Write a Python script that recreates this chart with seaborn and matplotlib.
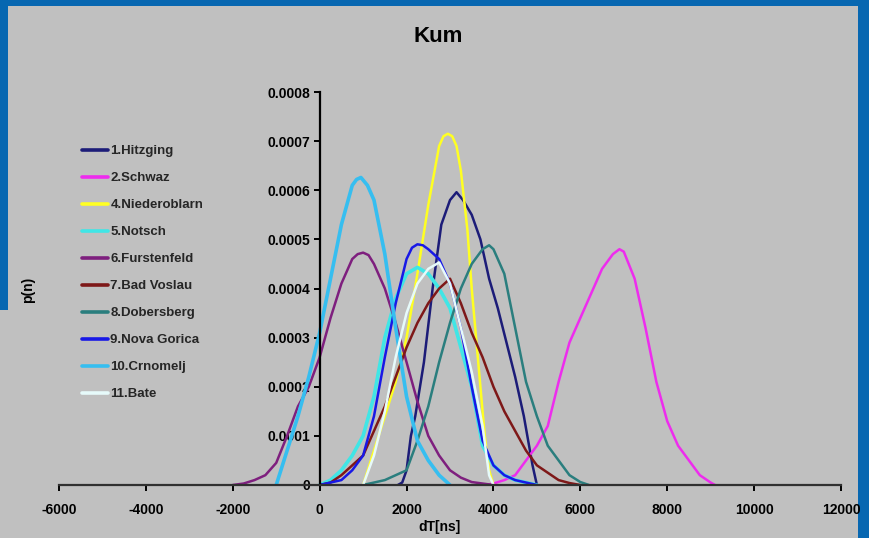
"""Kum: distribuciones p(n) de dT por estación."""

import matplotlib
matplotlib.use("Agg")

import matplotlib.pyplot as plt
import pandas as pd
import seaborn as sns
from matplotlib.lines import Line2D
from matplotlib.patches import Rectangle

# ---- datos ----
hitzging_x = [1800, 1900, 2000, 2100, 2200, 2400, 2600, 2800, 3000, 3150,
              3300, 3500, 3700, 3900, 4100, 4300, 4500, 4700, 4900, 5000]
hitzging_y = [0, 0.000005, 0.00003, 0.0001, 0.00014, 0.00025, 0.0004, 0.00053, 0.00058, 0.000596,
              0.00058, 0.00055, 0.0005, 0.00042, 0.00036, 0.00029, 0.00022, 0.00014, 0.00004, 0]

schwaz_x = [3800, 4000, 4250, 4500, 4750, 5000, 5250, 5500, 5750, 6000, 6250, 6500,
            6750, 6900, 7000, 7250, 7500, 7750, 8000, 8250, 8500, 8750, 9000, 9100]
schwaz_y = [0, 0.000003, 0.00001, 0.00002, 0.00005, 0.00008, 0.00012, 0.00021, 0.00029, 0.00034,
            0.00039, 0.00044, 0.00047, 0.00048, 0.000475, 0.00042, 0.00032, 0.00021, 0.00013,
            0.00008, 0.00005, 0.00002, 0.000005, 0]

nieder_x = [1000, 1250, 1500, 1750, 2000, 2250, 2500, 2750, 2850, 2950, 3050, 3150, 3250,
            3400, 3500, 3600, 3700, 3800, 3900, 4000]
nieder_y = [0, 0.00007, 0.00014, 0.00021, 0.0003, 0.00043, 0.00057, 0.00069, 0.00071, 0.000715,
            0.00071, 0.00069, 0.00064, 0.00052, 0.0004, 0.0003, 0.0002, 0.0001, 0.00003, 0]

notsch_x = [0, 250, 500, 750, 1000, 1250, 1500, 1750, 2000, 2250, 2500, 2750, 3000,
            3250, 3500, 3750, 4000, 4250, 4500, 5000]
notsch_y = [0, 0.00001, 0.00003, 0.00006, 0.0001, 0.00018, 0.0003, 0.00038, 0.00043, 0.000443,
            0.00043, 0.0004, 0.00036, 0.00028, 0.0002, 0.00008, 0.00004, 0.00002, 0.00001, 0]

furst_x = [-2000, -1750, -1500, -1250, -1000, -750, -500, -250, 0, 250, 500, 750, 875, 1000,
           1125, 1250, 1500, 1750, 2000, 2250, 2500, 2750, 3000, 3250, 3500, 4000]
furst_y = [0, 0.000003, 0.00001, 0.00002, 0.000045, 0.0001, 0.00016, 0.0002, 0.00026, 0.00034,
           0.00041, 0.00046, 0.00047, 0.000473, 0.000468, 0.00045, 0.0004, 0.00033, 0.00025,
           0.00017, 0.0001, 0.00006, 0.00003, 0.000015, 0.000006, 0]

voslau_x = [0, 250, 500, 750, 1000, 1250, 1500, 1750, 2000, 2250, 2500, 2750, 3000,
            3250, 3500, 3750, 4000, 4250, 4500, 4750, 5000, 5250, 5500, 5750, 6000]
voslau_y = [0, 0.000005, 0.00002, 0.00004, 0.00006, 0.00011, 0.00016, 0.00022, 0.00028, 0.00033,
            0.00037, 0.0004, 0.00042, 0.00037, 0.00031, 0.00026, 0.0002, 0.00015, 0.00011,
            0.00007, 0.00004, 0.000025, 0.00001, 0.000004, 0]

dobers_x = [1000, 1250, 1500, 1750, 2000, 2250, 2500, 2750, 3000, 3250, 3500, 3750,
            3900, 4000, 4250, 4500, 4750, 5000, 5250, 5500, 5750, 6000, 6200]
dobers_y = [0, 0.000005, 0.00001, 0.00002, 0.00003, 0.00009, 0.00016, 0.00025, 0.00033, 0.0004,
            0.00045, 0.00048, 0.000488, 0.00048, 0.00043, 0.00032, 0.00021, 0.00014, 0.00008,
            0.00005, 0.00002, 0.000006, 0]

gorica_x = [0, 250, 500, 750, 1000, 1250, 1500, 1750, 2000, 2125, 2250, 2375, 2500, 2750,
            3000, 3250, 3500, 3750, 4000, 4250, 4500, 5000]
gorica_y = [0, 0.000005, 0.00001, 0.00003, 0.00006, 0.00014, 0.00026, 0.00037, 0.00046, 0.000483,
            0.00049, 0.000488, 0.00048, 0.00046, 0.00041, 0.00032, 0.0002, 0.00009, 0.00004,
            0.00002, 0.00001, 0]

crnom_x = [-1000, -750, -500, -250, 0, 250, 500, 750, 850, 950, 1100, 1250, 1500, 1750,
           2000, 2250, 2500, 2750, 3000]
crnom_y = [0, 0.00007, 0.00014, 0.00022, 0.00031, 0.00042, 0.00053, 0.00061, 0.000622, 0.000626,
           0.00061, 0.00058, 0.00047, 0.00032, 0.00018, 0.00009, 0.00005, 0.00002, 0]

bate_x = [1000, 1250, 1500, 1750, 2000, 2250, 2500, 2750, 3000, 3250, 3500, 3750, 3900, 4000]
bate_y = [0, 0.00006, 0.00015, 0.00026, 0.00035, 0.00041, 0.00044, 0.000453, 0.00041, 0.00032,
          0.00023, 0.00012, 0.00002, 0]

labels = ["1.Hitzging", "2.Schwaz", "4.Niederoblarn", "5.Notsch", "6.Furstenfeld",
          "7.Bad Voslau", "8.Dobersberg", "9.Nova Gorica", "10.Crnomelj", "11.Bate"]
colors = ["#1c1c78", "#ee2cee", "#ffff22", "#40e6e6", "#7e1f7e",
          "#7e1818", "#2a7e7e", "#1818e6", "#36bef0", "#e6fafa"]
widths = [1.8, 1.8, 1.8, 2.6, 1.8, 1.8, 1.8, 1.8, 2.6, 1.8]

x_ticks = [-6000, -4000, -2000, 0, 2000, 4000, 6000, 8000, 10000, 12000]
y_ticks = [0, 0.0001, 0.0002, 0.0003, 0.0004, 0.0005, 0.0006, 0.0007, 0.0008]
y_tick_labels = ["0", "0.0001", "0.0002", "0.0003", "0.0004", "0.0005", "0.0006", "0.0007", "0.0008"]

series = [(hitzging_x, hitzging_y), (schwaz_x, schwaz_y), (nieder_x, nieder_y),
          (notsch_x, notsch_y), (furst_x, furst_y), (voslau_x, voslau_y),
          (dobers_x, dobers_y), (gorica_x, gorica_y), (crnom_x, crnom_y), (bate_x, bate_y)]

frames = []
for name, (xs, ys) in zip(labels, series):
    frames.append(pd.DataFrame({"dT": xs, "p": ys, "site": name}))
data = pd.concat(frames, ignore_index=True)

sns.set_theme(style="white")
plt.rcParams["font.family"] = ["Liberation Sans", "DejaVu Sans"]
plt.rcParams["font.weight"] = "bold"

BLUE = "#0767b1"
GRAY = "#c0c0c0"
W, H = 870, 538

fig = plt.figure(figsize=(8.7, 5.38), dpi=100, facecolor=BLUE)
fig.add_artist(Rectangle((8 / W, 0), 850 / W, 532 / H, transform=fig.transFigure,
                         facecolor=GRAY, edgecolor="none", zorder=-5))
fig.add_artist(Rectangle((0, 0), 9 / W, (H - 310) / H, transform=fig.transFigure,
                         facecolor=GRAY, edgecolor="none", zorder=-5))

ax = fig.add_axes([59 / W, 53 / H, 782 / W, 393 / H])
ax.set_facecolor("none")
ax.set_zorder(2)

for name, color, lw in zip(labels, colors, widths):
    sns.lineplot(data=data[data["site"] == name], x="dT", y="p", color=color,
                 linewidth=lw, ax=ax, legend=False, sort=False)

ax.set_xlim(-6000, 12000)
ax.set_ylim(0, 0.0008)
ax.set_xticks(x_ticks)
ax.set_xticklabels([str(v) for v in x_ticks])
ax.set_yticks(y_ticks)
ax.set_yticklabels(y_tick_labels)

for side in ["top", "right"]:
    ax.spines[side].set_visible(False)
ax.spines["left"].set_position(("data", 0))
ax.spines["left"].set_color("black")
ax.spines["left"].set_linewidth(1.6)
ax.spines["bottom"].set_color("#303030")
ax.spines["bottom"].set_linewidth(1.6)

ax.tick_params(axis="both", direction="out", length=4, width=1.4, color="black",
               labelsize=10, labelcolor="black")
ax.tick_params(axis="y", pad=3, left=True)
ax.tick_params(axis="x", pad=9, bottom=True)
for lab in ax.get_xticklabels() + ax.get_yticklabels():
    lab.set_fontweight("bold")

ax.set_xlabel("dT[ns]", fontsize=10, fontweight="bold", color="black")
ax.set_ylabel("p(n)", fontsize=10, fontweight="bold", color="black")
ax.xaxis.set_label_coords((440 - 59) / 782, (485 - 520) / 393)
ax.yaxis.set_label_coords((35 - 59) / 782, (485 - 290) / 393)

fig.text(438 / W, 1 - 37 / H, "Kum", ha="center", va="center",
         fontsize=16, fontweight="bold", color="black")

handles = [Line2D([0], [0], color=c, linewidth=2.6) for c in colors]
ax.legend(handles, labels, loc="upper left", bbox_to_anchor=(82 / W, 1 - 145 / H),
          bbox_transform=fig.transFigure, frameon=False, borderpad=0, borderaxespad=0,
          handlelength=2.0, handletextpad=0.15, labelspacing=1.12,
          prop={"size": 9.5, "weight": "bold"})

fig.savefig("out.png", dpi=100, facecolor=BLUE)
